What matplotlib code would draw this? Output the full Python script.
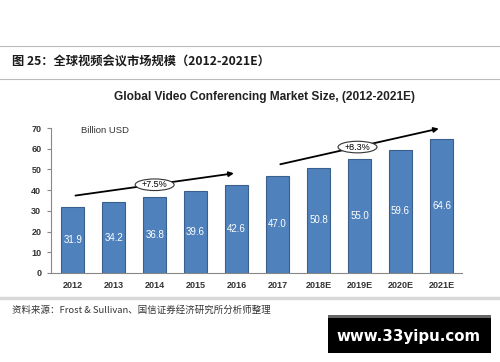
import matplotlib.pyplot as plt
from matplotlib.patches import Ellipse, Rectangle
from matplotlib.lines import Line2D

# data
years = ["2012", "2013", "2014", "2015", "2016", "2017", "2018E", "2019E", "2020E", "2021E"]
market_size = [31.9, 34.2, 36.8, 39.6, 42.6, 47.0, 50.8, 55.0, 59.6, 64.6]
cagr_labels = ["+7.5%", "+8.3%"]
y_ticks = [0, 10, 20, 30, 40, 50, 60, 70]

cjk = ['Noto Sans CJK SC', 'DejaVu Sans']
latin = 'Liberation Sans'

fig = plt.figure(figsize=(5, 3.62), dpi=100)
fig.patch.set_facecolor('white')

# header / footer rules
fig.add_artist(Line2D([0, 1], [1 - 46/362, 1 - 46/362], color='#bbbbbb', lw=0.8))
fig.add_artist(Line2D([0, 1], [1 - 79/362, 1 - 79/362], color='#bbbbbb', lw=0.8))
fig.add_artist(Line2D([0, 1], [1 - 298/362, 1 - 298/362], color='#d9d9d9', lw=2.5))

fig.text(12/500, 1 - 62/362, "图 25：全球视频会议市场规模（2012-2021E）", family=cjk,
         fontsize=8.8, fontweight='bold', va='center', ha='left', color='#1a1a1a')
fig.text(12/500, 1 - 310/362, "资料来源：Frost & Sullivan、国信证券经济研究所分析师整理", family=cjk,
         fontsize=6.8, va='center', ha='left', color='#333333')
fig.text(265/500, 1 - 97/362, "Global Video Conferencing Market Size, (2012-2021E)",
         family=latin, fontsize=8.6, fontweight='bold', ha='center', va='center', color='#222222')

ax = fig.add_axes([51/500, 1 - 273/362, 411/500, 145/362])
x = list(range(len(years)))
ax.bar(x, market_size, width=0.57, color='#4f81bd', edgecolor='#3b5f8c', linewidth=0.8, zorder=2)
for xi, v in zip(x, market_size):
    ax.text(xi, v / 2, f"{v:.1f}", ha='center', va='center', color='white',
            fontsize=7, family=latin)

ax.set_xlim(-0.53, 9.5)
ax.set_ylim(0, 70)
ax.set_yticks(y_ticks)
ax.set_xticks(x)
ax.set_xticklabels(years)
for lab in ax.get_xticklabels() + ax.get_yticklabels():
    lab.set_family(latin)
    lab.set_fontweight('bold')
    lab.set_fontsize(6.5)
    lab.set_color('#333333')
ax.tick_params(axis='x', length=0, pad=6)
ax.tick_params(axis='y', length=3, color='#888888', pad=4)
for s in ['top', 'right']:
    ax.spines[s].set_visible(False)
ax.spines['left'].set_color('#888888')
ax.spines['bottom'].set_color('#888888')

ax.text(0.2, 69, "Billion USD", family=latin, fontsize=6.8, color='#333333', va='center', ha='left')

# growth arrows
arrow_kw = dict(arrowstyle='-|>', color='black', lw=1.3, mutation_scale=7)
ax.annotate("", xy=(4.0, 48.3), xytext=(0.0, 37.2), arrowprops=arrow_kw)
ax.annotate("", xy=(9.0, 70.0), xytext=(5.0, 52.2), arrowprops=arrow_kw)
for (ex, ey), lab in zip([(2.0, 42.6), (6.95, 60.8)], cagr_labels):
    ax.add_patch(Ellipse((ex, ey), 0.95, 5.6, facecolor='white', edgecolor='#333333', lw=0.8, zorder=3))
    ax.text(ex, ey, lab, ha='center', va='center', fontsize=6.5, family=latin, zorder=4)

# watermark box
fig.add_artist(Rectangle((328/500, 1 - 353/362), 163/500, 38/362, transform=fig.transFigure,
                         facecolor='black', edgecolor='none'))
fig.add_artist(Rectangle((328/500, 1 - 318/362), 163/500, 3/362, transform=fig.transFigure,
                         facecolor='#666666', edgecolor='none'))
fig.text(409/500, 1 - 336/362, "www.33yipu.com", color='white', fontsize=10.8,
         fontweight='bold', family='DejaVu Sans', ha='center', va='center')

fig.savefig("out.png", dpi=100)
